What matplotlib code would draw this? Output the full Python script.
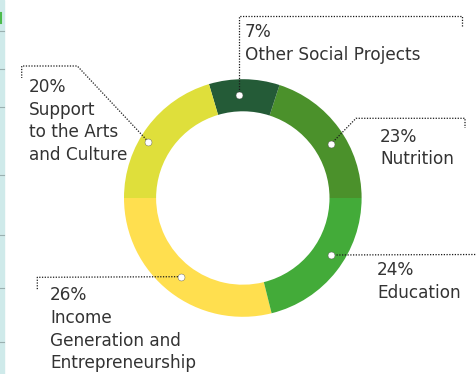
import matplotlib
matplotlib.use("Agg")
import matplotlib.pyplot as plt

# ---- data -------------------------------------------------------------
categories = ["Nutrition", "Other Social Projects", "Support to the Arts and Culture",
              "Income Generation and Entrepreneurship", "Education"]
pct_labels = ["23%", "7%", "20%", "26%", "24%"]
# arc sizes as drawn in the reference (its arcs are not drawn exactly to the printed shares)
arc_shares = [20.0, 9.6, 20.4, 28.9, 21.1]
label_lines = [["Nutrition"], ["Other Social Projects"], ["Support", "to the Arts", "and Culture"],
               ["Income", "Generation and", "Entrepreneurship"], ["Education"]]
colors = ["#4b912b", "#245b37", "#dfdf3b", "#ffdf4f", "#43ab39"]

# ---- layout (pixel coordinates, y downwards) ---------------------------
W, H = 476, 374
cx, cy = 242.8, 198.0
r_out, ring_w = 118.8, 32.1

text_pos = [(380, 141.5), (245, 37), (29, 92), (50, 300.5), (377, 275)]
leaders = [
    [(331, 144), (356, 118.3), (465, 118.3), (465, 128)],
    [(239.3, 95), (239.3, 16), (461.7, 16), (461.7, 26)],
    [(148.3, 141.7), (77.3, 66), (21.7, 66), (21.7, 78)],
    [(180.7, 276.7), (37.3, 277.3), (37.3, 290)],
    [(331, 255), (476, 254.5)],
]
strip_ticks = [31, 69, 107, 175, 235, 288, 342]

fig = plt.figure(figsize=(W / 100, H / 100), dpi=100)
ax = fig.add_axes([0, 0, 1, 1])

ax.pie(arc_shares, colors=colors, startangle=0, counterclock=False,
       center=(cx, cy), radius=r_out, frame=True,
       wedgeprops=dict(width=ring_w, edgecolor="none", linewidth=0))

ax.set_xlim(0, W)
ax.set_ylim(H, 0)
ax.set_axis_off()

# left decorative strip
ax.axvspan(0, 4, color="#cfeaea", zorder=0)
for t in strip_ticks:
    ax.plot([0, 4], [t, t], color="#9ab0b0", lw=0.8, zorder=1)
ax.plot([0.7, 0.7], [13, 23], color="#4cbb4c", lw=1.5, zorder=1)

txt_color = "#333333"
for (tx, ty), pct, lines, path in zip(text_pos, pct_labels, label_lines, leaders):
    xs = [p[0] for p in path]
    ys = [p[1] for p in path]
    ax.plot(xs, ys, color="#1a1a1a", lw=0.9, linestyle=(0, (1.0, 1.2)), zorder=3,
            solid_capstyle="butt", dash_capstyle="butt")
    ax.plot(xs[0], ys[0], "o", ms=5.0, mfc="white", mec="#555555", mew=0.3, zorder=4)
    for i, line in enumerate([pct] + lines):
        ax.text(tx, ty + i * 22.5, line, fontsize=12.2, color=txt_color,
                family="DejaVu Sans", va="baseline", ha="left")

fig.savefig("out.png", dpi=100)
